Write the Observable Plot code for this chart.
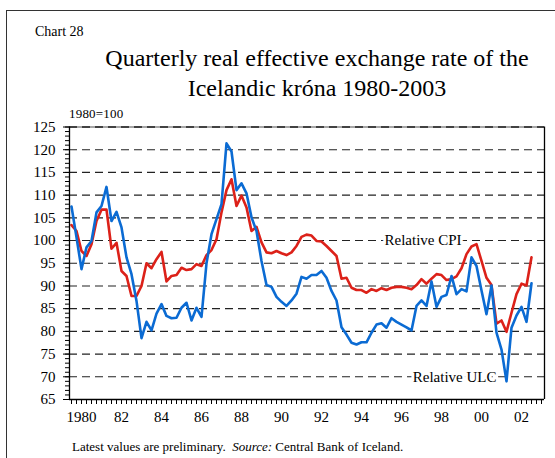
<!DOCTYPE html>
<html><head><meta charset="utf-8">
<script src="https://cdn.jsdelivr.net/npm/d3@7"></script>
<script src="https://cdn.jsdelivr.net/npm/@observablehq/plot@0.6"></script>
<style>
body{margin:0;background:#fff;font-family:"Liberation Serif","Times New Roman",serif;}
#wrap{position:relative;width:555px;height:458px;overflow:hidden;}
#frame{position:absolute;left:6px;top:10px;width:600px;height:500px;border-left:1px solid #333;border-top:1px solid #333;}
.t{position:absolute;white-space:nowrap;color:#000;}
#plot svg, #plot svg text{font-family:"Liberation Serif","Times New Roman",serif !important;}
</style></head><body>
<div id="wrap">
<div id="frame"></div>
<div class="t" style="left:35px;top:24px;font-size:14px;">Chart 28</div>
<div class="t" style="left:0;width:634px;text-align:center;top:43px;font-size:24px;line-height:30px;">Quarterly real effective exchange rate of the<br>Icelandic króna 1980-2003</div>
<div class="t" style="left:69px;top:106px;font-size:13px;letter-spacing:0.2px;">1980=100</div>
<div id="plot" style="position:absolute;left:0;top:100px;"></div>
<div class="t" style="left:72px;top:439px;font-size:13px;">Latest values are preliminary.&nbsp; <i>Source:</i> Central Bank of Iceland.</div>
</div>
<script>
// Quarterly, 1980Q1 .. 2003Q1
const startYear = 1980;
const relativeULC = [107.5,100.7,93.7,98.5,99.9,106.2,107.6,111.8,104.3,106.3,
  102.9,96.3,92.6,86.7,78.5,82.1,80.2,83.9,86.0,83.4,
  82.9,83.0,85.2,86.3,82.4,85.2,83.2,95.0,101.4,104.7,
  108.0,121.4,119.6,111.1,112.6,110.4,105.1,102.1,95.5,90.2,
  89.8,87.6,86.5,85.6,86.8,88.3,92.0,91.6,92.4,92.4,
  93.3,91.8,88.9,86.8,80.9,79.3,77.5,77.1,77.6,77.6,
  79.7,81.5,81.8,80.8,82.9,82.1,81.5,80.9,80.2,85.6,
  86.8,85.6,91.0,85.4,87.6,88.0,92.2,88.2,89.3,88.8,
  96.3,94.4,89.0,83.8,90.1,79.7,76.0,69.0,80.8,83.5,
  85.4,82.1,90.6];
const relativeCPI = [103.4,102.1,97.7,96.6,99.2,104.3,106.8,106.8,98.2,99.5,
  93.3,92.2,87.8,87.8,90.0,95.0,93.9,95.9,97.5,91.0,
  92.2,92.4,94.0,93.5,93.7,94.8,94.4,96.8,97.9,100.3,
  106.2,111.1,113.5,107.6,109.9,107.3,102.1,103.0,99.6,97.4,
  97.2,97.7,97.2,96.8,97.4,98.8,100.8,101.3,101.1,99.9,
  99.8,98.8,97.7,96.6,91.6,91.8,89.6,89.1,89.1,88.5,
  89.3,88.9,89.5,89.1,89.6,89.8,89.8,89.6,89.3,90.2,
  91.5,90.5,91.6,92.6,92.4,91.3,91.5,92.1,93.9,97.0,
  98.7,99.2,95.5,91.8,90.2,81.7,82.4,79.9,84.1,88.2,
  90.5,90.1,96.3];
const xTickYears = [1980,1982,1984,1986,1988,1990,1992,1994,1996,1998,2000,2002];
const xTickLabels = ["1980","82","84","86","88","90","92","94","96","98","00","02"];
const yTicks = [65,70,75,80,85,90,95,100,105,110,115,120,125];
const cpiLabel = [{name:"Relative CPI", t:1995.65, v:100}];
const ulcLabel = [{name:"Relative ULC", t:2001.25, v:70}];

const quarters = relativeULC.map((_, i) => startYear + i / 4);
const table = quarters.map((t, i) => ({t, ulc: relativeULC[i], cpi: relativeCPI[i]}));
const xMin = 1979.9, xMax = 2003.65;
const labelPos = xTickYears.map(y => y + 0.5);
const labelMap = new Map(labelPos.map((p, i) => [p, xTickLabels[i]]));
const qTicks = d3.range(0, 95).map(i => startYear + i / 4);
const yMinor = d3.range(65, 126, 1);
const grid = yTicks.filter(v => v > 65 && v < 125);

const chart = Plot.plot({
  width: 555, height: 330,
  marginLeft: 69, marginRight: 11, marginTop: 26.5, marginBottom: 31,
  x: {domain: [xMin, xMax]},
  y: {domain: [65, 125]},
  style: {fontFamily: "Liberation Serif", fontSize: "15px", background: "transparent", overflow: "visible", color: "#000"},
  marks: [
    Plot.ruleY(grid, {stroke: "#222", strokeWidth: 1.1, strokeDasharray: "8,5"}),
    Plot.ruleY([125], {stroke: "#888", strokeWidth: 1.5}),
    Plot.ruleY([125], {stroke: "#222", strokeWidth: 1.5, strokeDasharray: "8,5"}),
    Plot.text(cpiLabel, {x: "t", y: "v", text: "name", textAnchor: "start", fontSize: 15, fill: "#000", stroke: "white", strokeWidth: 6}),
    Plot.text(ulcLabel, {x: "t", y: "v", text: "name", textAnchor: "end", fontSize: 15, fill: "#000", stroke: "white", strokeWidth: 6}),
    Plot.line(table, {x: "t", y: "cpi", stroke: "#dc2119", strokeWidth: 2.6}),
    Plot.line(table, {x: "t", y: "ulc", stroke: "#0b6bd3", strokeWidth: 2.6}),
    Plot.ruleX([xMin], {stroke: "#000", strokeWidth: 1.3}),
    Plot.ruleX([xMax], {stroke: "#000", strokeWidth: 1.3}),
    Plot.ruleY([65], {stroke: "#000", strokeWidth: 1.3}),
    Plot.axisY(yMinor, {anchor: "left", tickSize: 4, tickFormat: () => "", stroke: "#000", label: null}),
    Plot.axisY(yTicks, {anchor: "left", tickSize: 6, tickPadding: 8, fontSize: 15, stroke: "#000", fill: "#000", label: null}),
    Plot.axisX(qTicks, {anchor: "bottom", tickSize: 5, tickFormat: () => "", stroke: "#000", label: null}),
    Plot.axisX(labelPos, {anchor: "bottom", tickSize: 0, tickPadding: 12, fontSize: 15, tickFormat: d => labelMap.get(d), fill: "#000", label: null})
  ]
});
document.getElementById("plot").appendChild(chart);
</script>
</body></html>
